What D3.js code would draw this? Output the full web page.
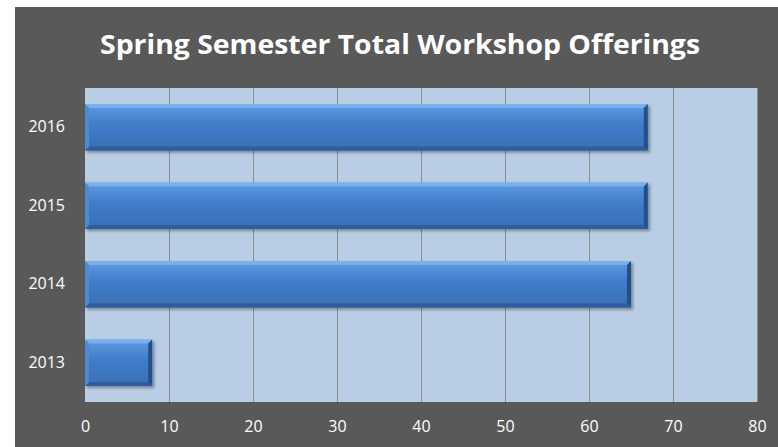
<!DOCTYPE html>
<html lang="en">
<head>
<meta charset="UTF-8">
<title>Spring Semester Total Workshop Offerings</title>
<script src="https://d3js.org/d3.v7.min.js"></script>
<style>
  html, body { margin: 0; padding: 0; background: #ffffff; }
  svg { display: block; }
</style>
</head>
<body>
<div id="chart"></div>
<script>
// data
const years = ["2013", "2014", "2015", "2016"];
const offerings = [8, 65, 67, 67];
const xTicks = [0, 10, 20, 30, 40, 50, 60, 70, 80];
const chartTitle = "Spring Semester Total Workshop Offerings";

const W = 778, H = 447;
const frame = { left: 15, top: 7 };
const margin = { top: 88, right: 21, bottom: 45, left: 85 };
const width = W - margin.left - margin.right;
const height = H - margin.top - margin.bottom;
const font = "'Open Sans', 'Liberation Sans', sans-serif";

const svg = d3.select("#chart").append("svg")
  .attr("width", W).attr("height", H);

const defs = svg.append("defs");
const grad = defs.append("linearGradient")
  .attr("id", "barGrad").attr("x1", 0).attr("y1", 0).attr("x2", 0).attr("y2", 1);
grad.append("stop").attr("offset", "0%").attr("stop-color", "#5f9be0");
grad.append("stop").attr("offset", "45%").attr("stop-color", "#3f7cc9");
grad.append("stop").attr("offset", "100%").attr("stop-color", "#3a6fb4");

const shadow = defs.append("filter").attr("id", "shadow")
  .attr("x", "-10%").attr("y", "-20%").attr("width", "130%").attr("height", "160%");
shadow.append("feDropShadow").attr("dx", 2).attr("dy", 2).attr("stdDeviation", 1.5)
  .attr("flood-color", "#000").attr("flood-opacity", 0.35);

// dark chart background
svg.append("rect")
  .attr("x", frame.left).attr("y", frame.top)
  .attr("width", W - frame.left).attr("height", H - frame.top)
  .attr("fill", "#595959");

svg.append("text")
  .attr("x", 400).attr("y", 54)
  .attr("text-anchor", "middle")
  .attr("fill", "#ffffff")
  .attr("font-family", font)
  .attr("font-weight", "bold")
  .attr("font-size", 26)
  .attr("textLength", 600)
  .attr("lengthAdjust", "spacingAndGlyphs")
  .text(chartTitle);

const g = svg.append("g")
  .attr("transform", `translate(${margin.left},${margin.top})`);

const x = d3.scaleLinear().domain([0, 80]).range([0, width]);
const y = d3.scaleBand().domain(years.slice().reverse()).range([0, height])
  .paddingInner(0.41).paddingOuter(0.205);

// plot area
g.append("rect")
  .attr("width", width).attr("height", height)
  .attr("fill", "#b9cde5");

// vertical gridlines
g.selectAll(".grid").data(xTicks.slice(1))
  .join("line")
  .attr("x1", d => x(d)).attr("x2", d => x(d))
  .attr("y1", 0).attr("y2", height)
  .attr("stroke", "#8c8c8c").attr("stroke-width", 1)
  .attr("shape-rendering", "crispEdges");

// axes
const xAxis = g.append("g")
  .attr("transform", `translate(0,${height})`)
  .call(d3.axisBottom(x).tickValues(xTicks).tickSize(0).tickPadding(19));
const yAxis = g.append("g")
  .call(d3.axisLeft(y).tickSize(0).tickPadding(20));
[xAxis, yAxis].forEach(a => {
  a.select(".domain").remove();
  a.attr("font-size", 16).attr("font-family", font);
  a.selectAll("text")
    .attr("fill", "#ffffff")
    .style("font-size", "16px");
});

// bars with bevel
const data = years.map((yr, i) => ({ year: yr, value: offerings[i] }));
const bev = 4;
const bars = g.selectAll(".bar").data(data).join("g")
  .attr("class", "bar")
  .attr("filter", "url(#shadow)");

bars.append("rect")
  .attr("x", x(0)).attr("y", d => y(d.year))
  .attr("width", d => x(d.value) - x(0))
  .attr("height", y.bandwidth())
  .attr("fill", "url(#barGrad)");

// top bevel
bars.append("path")
  .attr("fill", "#7fb4ee").attr("opacity", 0.85)
  .attr("d", d => {
    const x0 = x(0), x1 = x(d.value), y0 = y(d.year);
    return `M${x0},${y0}L${x1},${y0}L${x1 - bev},${y0 + bev}L${x0 + bev},${y0 + bev}Z`;
  });
// right bevel
bars.append("path")
  .attr("fill", "#24508a")
  .attr("d", d => {
    const x1 = x(d.value), y0 = y(d.year), y1 = y0 + y.bandwidth();
    return `M${x1},${y0}L${x1},${y1}L${x1 - bev},${y1 - bev}L${x1 - bev},${y0 + bev}Z`;
  });
// bottom bevel
bars.append("path")
  .attr("fill", "#2d5d9c")
  .attr("d", d => {
    const x0 = x(0), x1 = x(d.value), y1 = y(d.year) + y.bandwidth();
    return `M${x0},${y1}L${x1},${y1}L${x1 - bev},${y1 - bev}L${x0 + bev},${y1 - bev}Z`;
  });
// left bevel
bars.append("path")
  .attr("fill", "#4d8ad4")
  .attr("d", d => {
    const x0 = x(0), y0 = y(d.year), y1 = y0 + y.bandwidth();
    return `M${x0},${y0}L${x0 + bev},${y0 + bev}L${x0 + bev},${y1 - bev}L${x0},${y1}Z`;
  });
</script>
</body>
</html>
